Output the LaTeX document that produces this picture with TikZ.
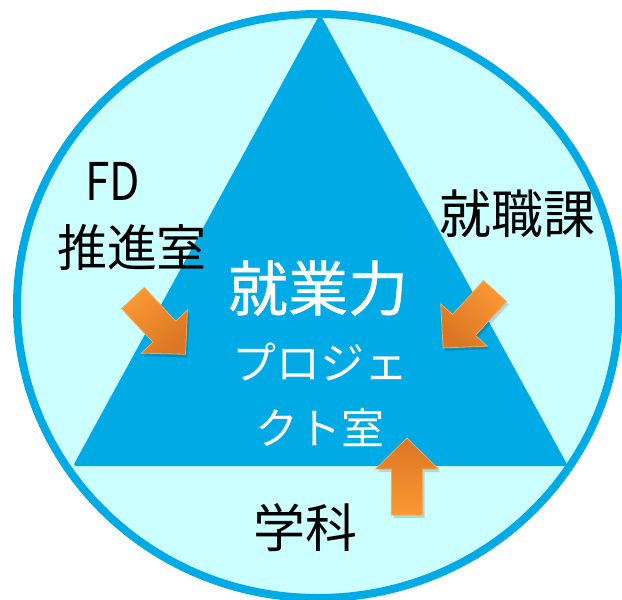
\documentclass[tikz,border=0pt]{standalone}
\usepackage{fontspec}
\setmainfont{Noto Sans CJK JP}
\newfontfamily\heavycjk[FakeBold=0.6]{Noto Sans CJK JP}
\definecolor{ringblue}{RGB}{0,170,228}
\definecolor{paleCyan}{RGB}{204,255,255}
\definecolor{orangeL}{RGB}{250,152,52}
\definecolor{orangeD}{RGB}{218,118,36}
\definecolor{orangeE}{RGB}{250,168,84}
\begin{document}
\begin{tikzpicture}[x=1pt,y=-1pt,
  lbl/.style={inner sep=0pt, text=black},
  ctr/.style={inner sep=0pt, text=white},
  arrowshadow/.style={fill=black, opacity=0.15, shift={(2,3)}},
  arrowbody/.style={draw=orangeE, line width=0.8pt, top color=orangeD, bottom color=orangeL, shading angle=#1}]
\useasboundingbox (0,0) rectangle (622,600);
% circle background
\fill[paleCyan] (318,306) ellipse [x radius=301, y radius=292];
% triangle
\fill[ringblue, rounded corners=3pt] (320,14) -- (568,466) -- (73,466) -- cycle;
% ring
\draw[ringblue, line width=8pt] (318,306) ellipse [x radius=301, y radius=292];
% left arrow (FD)
\path[arrowshadow] (144.3,287.4) -- (175.7,321.1) -- (187.4,310.1) -- (185.5,354.3) -- (141.3,353.1) -- (153.0,342.2) -- (121.7,308.6) -- cycle;
\path[arrowbody=-137] (144.3,287.4) -- (175.7,321.1) -- (187.4,310.1) -- (185.5,354.3) -- (141.3,353.1) -- (153.0,342.2) -- (121.7,308.6) -- cycle;
% right arrow
\path[arrowshadow] (506.5,301.4) -- (475.5,335.4) -- (487.3,346.2) -- (443.1,347.9) -- (440.7,303.8) -- (452.5,314.5) -- (483.5,280.6) -- cycle;
\path[arrowbody=137.6] (506.5,301.4) -- (475.5,335.4) -- (487.3,346.2) -- (443.1,347.9) -- (440.7,303.8) -- (452.5,314.5) -- (483.5,280.6) -- cycle;
% bottom arrow
\path[arrowshadow] (391.5,515) -- (391.5,469) -- (375.5,469) -- (407,438) -- (438.5,469) -- (422.5,469) -- (422.5,515) -- cycle;
\path[arrowbody=0] (391.5,515) -- (391.5,469) -- (375.5,469) -- (407,438) -- (438.5,469) -- (422.5,469) -- (422.5,515) -- cycle;
% labels
\node[lbl, font=\fontsize{52}{52}\selectfont, xscale=0.85] (fd) at (113,181) {FD};
\node[lbl, font=\fontsize{50}{50}\selectfont] (fdr) at (132,247) {推進室};
\node[lbl, font=\fontsize{52}{52}\selectfont] (shoku) at (517,214) {就職課};
\node[lbl, font=\fontsize{52}{52}\selectfont] (gaku) at (305,528) {学科};
\node[ctr, font=\heavycjk\fontsize{60}{60}\selectfont] (main) at (318,288) {就業力};
\node[ctr, font=\fontsize{44}{44}\selectfont] (proj) at (320,362) {プロジェ};
\node[ctr, font=\fontsize{43}{43}\selectfont] (room) at (320,428) {クト室};
\end{tikzpicture}
\end{document}
